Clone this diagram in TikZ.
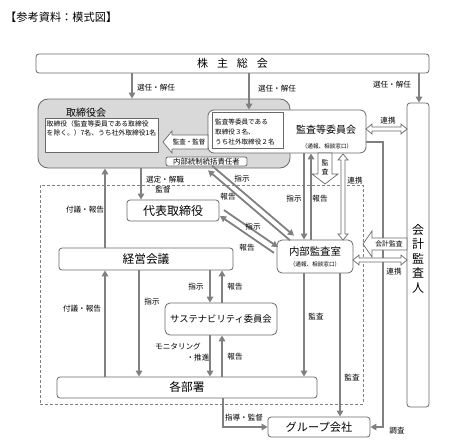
\documentclass[tikz,border=0pt]{standalone}
\usepackage{fontspec}
\setmainfont{Noto Sans CJK JP}
\usetikzlibrary{arrows.meta,calc}
\definecolor{arr}{RGB}{128,128,128}
\definecolor{bdr}{RGB}{105,105,105}
\definecolor{gfill}{RGB}{217,217,217}
\begin{document}
\begin{tikzpicture}[x=1pt,y=-1pt,
  box/.style={draw=bdr,line width=0.8pt,rounded corners=3pt,fill=white,inner sep=0pt},
  plainbox/.style={draw=bdr,line width=0.6pt,fill=white,inner sep=0pt},
  lbl/.style={inner sep=0pt,font=\fontsize{7.6}{8}\selectfont},
  garrow/.style={draw=arr,line width=1.8pt,-{Triangle[length=6pt,width=6.5pt]}},
  hollow/.style={draw=bdr,line width=0.7pt,fill=white,line join=miter},
]
\useasboundingbox (0,0) rectangle (455,447);

% title
\node[anchor=west,inner sep=0pt,font=\fontsize{11.2}{12}\selectfont] (title) at (5,17) {【参考資料：模式図】};

% dashed area
\node[draw=arr,line width=0.8pt,dash pattern=on 3pt off 2pt,minimum width=323,minimum height=219,inner sep=0pt] (area) at (201.5,294.5) {};

% boxes
\node[box,minimum width=393,minimum height=19,font=\fontsize{11}{13}\selectfont] (ga) at (232.5,63.5) {株\hspace{9pt}主\hspace{9pt}総\hspace{9pt}会};
\node[box,fill=gfill,rounded corners=10pt,minimum width=252,minimum height=69] (bd) at (164,133.5) {};
\node[lbl,font=\fontsize{10}{12}\selectfont] (bdl) at (86,113) {取締役会};
\node[plainbox,minimum width=113,minimum height=34] (bdt) at (101.5,135) {};
\node[lbl,anchor=north west,align=left,font=\fontsize{6.8}{9}\selectfont] (bdtt) at (46.5,120.5) {取締役（監査等委員である取締役\\を除く。）7名、うち社外取締役1名};

\node[box,rounded corners=6pt,minimum width=158,minimum height=43] (ac) at (287,131.5) {};
\node[plainbox,minimum width=71,minimum height=36] (acb) at (247.5,130) {};
\node[lbl,anchor=north west,align=left,font=\fontsize{6.6}{10}\selectfont] (acbt) at (215,118.5) {監査等委員である\\取締役３名、\\うち社外取締役２名};
\node[lbl,font=\fontsize{10}{12}\selectfont] (acl) at (326,130) {監査等委員会};
\node[lbl,font=\fontsize{5.6}{6}\selectfont] (acs) at (327,146) {（通報、相談窓口）};
\node[box,rounded corners=2pt,minimum width=81,minimum height=9,font=\fontsize{7.4}{8}\selectfont] (ic) at (206.5,161.5) {内部統制統括責任者};

\node[box,minimum width=22,minimum height=304] (ca) at (418,255) {};
\node[lbl,align=center,font=\fontsize{12}{14.5}\selectfont] (cal) at (418,258.5) {会\\計\\監\\査\\人};

\node[box,minimum width=92,minimum height=21,font=\fontsize{12}{14}\selectfont] (rep) at (173,210.5) {代表取締役};
\node[box,rounded corners=5pt,minimum width=76,minimum height=33] (ia) at (315,256.5) {};
\node[lbl,font=\fontsize{10.4}{12}\selectfont] (ial) at (315,252) {内部監査室};
\node[lbl,font=\fontsize{5.6}{6}\selectfont] (ias) at (315,264) {（通報、相談窓口）};
\node[box,minimum width=174,minimum height=22,font=\fontsize{11.7}{13}\selectfont] (mc) at (146,259) {経営会議};
\node[box,rounded corners=5pt,minimum width=112,minimum height=32,font=\fontsize{9.3}{11}\selectfont] (sc) at (221,319) {サステナビリティ委員会};
\node[box,minimum width=260,minimum height=21,font=\fontsize{11.7}{13}\selectfont] (dep) at (187,387.5) {各部署};
\node[box,minimum width=102,minimum height=20,font=\fontsize{11.2}{13}\selectfont] (gc) at (319,427) {グループ会社};

% gray arrows
\draw[garrow] (132,0 |- ga.south) -- (132,0 |- bd.north);
\draw[garrow] (249,0 |- ga.south) -- (249,0 |- ac.north);
\draw[garrow] (419,0 |- ga.south) -- (419,0 |- ca.north);
\draw[garrow] (141,0 |- bd.south) -- (141,0 |- rep.north);
\draw[garrow] (105,0 |- mc.north) -- (105,0 |- bd.south);
\draw[garrow] (139,0 |- mc.south) -- (139,0 |- dep.north);
\draw[garrow] (105,0 |- dep.north) -- (105,0 |- mc.south);
\draw[garrow] (210,0 |- mc.south) -- (210,0 |- sc.north);
\draw[garrow] (222,0 |- sc.north) -- (222,0 |- mc.south);
\draw[garrow] (210,0 |- sc.south) -- (210,0 |- dep.north);
\draw[garrow] (222,0 |- dep.north) -- (222,0 |- sc.south);
\draw[garrow] (304,0 |- ac.south) -- (304,0 |- ia.north);
\draw[garrow] (311,0 |- ia.north) -- (311,0 |- ac.south);
\draw[garrow] (304,0 |- ia.south) -- (304,0 |- dep.north);
\draw[garrow] (340,0 |- ia.south) -- (340,0 |- gc.north);
\draw[garrow] (223,0 |- dep.south) |- (gc.west);
\draw[garrow] (ac.east |- 0,142) -| (383,0 |- gc.east) -- (gc.east);

% diagonal pairs
\coordinate (d1s) at (212,165.7); \coordinate (d1e) at (294,235.7);
\coordinate (d2s) at (290,240.3); \coordinate (d2e) at (208,170.3);
\coordinate (d3s) at (224,210.1); \coordinate (d3e) at (278,247.1);
\coordinate (d4s) at (274,252.9); \coordinate (d4e) at (220,215.9);
\draw[garrow] (d1s) -- (d1e);
\draw[garrow] (d2s) -- (d2e);
\draw[garrow] (d3s) -- (d3e);
\draw[garrow] (d4s) -- (d4e);

% hollow arrows
\coordinate (h1) at (163,142);
\draw[hollow] (h1) -- ++(9,-11) -- ++(0,4) -- ++(36,0) -- ++(0,14) -- ++(-36,0) -- ++(0,4) -- cycle;
\node[lbl,font=\fontsize{6.5}{7}\selectfont] (h1l) at (189,142) {監査・監督};

\coordinate (h2) at (318,153);
\draw[hollow] (h2) -- ++(14,0) -- ++(0,21) -- ++(6,0) -- ++(-13,10) -- ++(-13,-10) -- ++(6,0) -- cycle;
\node[lbl,align=center,font=\fontsize{7}{9}\selectfont] (h2l) at (325,167.5) {監\\査};

\coordinate (h3) at (363,244);
\draw[hollow] (h3) -- ++(9,-13) -- ++(0,7) -- ++(35,0) -- ++(0,12) -- ++(-35,0) -- ++(0,7) -- cycle;
\node[lbl,font=\fontsize{6.8}{7}\selectfont] (h3l) at (389,244) {会計監査};

% double hollow arrows (連携)
\coordinate (k1) at (366,129);
\draw[hollow] (k1) -- ++(6,-5) -- ++(0,3) -- ++(29,0) -- ++(0,-3) -- ++(6,5) -- ++(-6,5) -- ++(0,-3) -- ++(-29,0) -- ++(0,3) -- cycle;
\coordinate (k2) at (343,154);
\draw[hollow] (k2) -- ++(-5,6) -- ++(3,0) -- ++(0,74) -- ++(-3,0) -- ++(5,6) -- ++(5,-6) -- ++(-3,0) -- ++(0,-74) -- ++(3,0) -- cycle;
\coordinate (k3) at (353,260);
\draw[hollow] (k3) -- ++(6,-5) -- ++(0,3) -- ++(42,0) -- ++(0,-3) -- ++(6,5) -- ++(-6,5) -- ++(0,-3) -- ++(-42,0) -- ++(0,3) -- cycle;

% labels
\node[lbl] (l1) at (156,88) {選任・解任};
\node[lbl] (l2) at (277,89) {選任・解任};
\node[lbl] (l3) at (392,85) {選任・解任};
\node[lbl] (l4) at (165,180) {選定・解職};
\node[lbl] (l5) at (163,189.5) {監督};
\node[lbl] (l6) at (85,210) {付議・報告};
\node[lbl] (l7) at (82,309) {付議・報告};
\node[lbl] (l8) at (152,302) {指示};
\node[lbl] (l9) at (196,287) {指示};
\node[lbl] (l10) at (235,287) {報告};
\node[lbl] (l11) at (178,347) {モニタリング};
\node[lbl] (l12) at (198,357.5) {・推進};
\node[lbl] (l13) at (235,357) {報告};
\node[lbl] (l14) at (294,199) {指示};
\node[lbl] (l15) at (320,199) {報告};
\node[lbl] (l16) at (316,317) {監査};
\node[lbl] (l17) at (352,378) {監査};
\node[lbl] (l18) at (244,418) {指導・監督};
\node[lbl] (l19) at (397,431) {調査};
\node[lbl] (l20) at (388,121) {連携};
\node[lbl] (l21) at (355,181) {連携};
\node[lbl] (l22) at (394,272) {連携};
\node[lbl] (l23) at (242,179) {指示};
\node[lbl] (l24) at (228,197) {報告};
\node[lbl] (l25) at (253,227) {指示};
\node[lbl] (l26) at (247,248) {報告};
\end{tikzpicture}
\end{document}
